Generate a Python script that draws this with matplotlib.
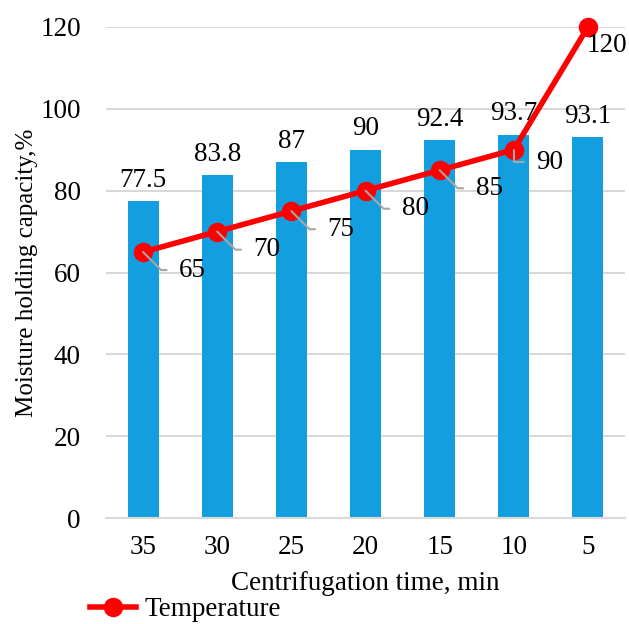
import numpy as np
import matplotlib.pyplot as plt

times = ['35', '30', '25', '20', '15', '10', '5']
capacity = [77.5, 83.8, 87, 90, 92.4, 93.7, 93.1]
temperature = [65, 70, 75, 80, 85, 90, 120]

plt.rcParams['font.family'] = ['Liberation Serif', 'DejaVu Serif']
FS = 19.5

fig = plt.figure(figsize=(6.29, 6.24), dpi=100)
ax = fig.add_axes([106 / 629, 1 - 518 / 624, 519 / 629, 491 / 624])

x = np.arange(len(times))
ax.bar(x, capacity, width=0.42, color='#139fdf', zorder=2)
ax.plot(x, temperature, color='#ff0000', lw=4, marker='o', ms=13,
        zorder=3, clip_on=False, label='Temperature')

for xi, v in zip(x, capacity):
    ax.annotate(f'{v:g}', (xi, v), xytext=(0, 6), textcoords='offset points',
                ha='center', va='bottom', fontsize=FS)

# data labels on the line, with leader lines
lead = dict(arrowstyle='-', color='#a6a6a6', lw=1.5, shrinkA=7, shrinkB=0)
for xi, t in zip(x[:5], temperature[:5]):
    ax.annotate(str(t), (xi, t), xytext=(26, -13), textcoords='offset points',
                ha='left', va='center', fontsize=FS,
                arrowprops=dict(lead, connectionstyle='angle,angleA=0,angleB=-45,rad=0'))
ax.annotate(str(temperature[5]), (x[5], temperature[5]), xytext=(16, -9),
            textcoords='offset points', ha='left', va='center', fontsize=FS,
            arrowprops=dict(lead, connectionstyle='angle,angleA=0,angleB=90,rad=0'))
ax.annotate(str(temperature[6]), (x[6], temperature[6]), xytext=(-1, -13),
            textcoords='offset points', ha='left', va='center', fontsize=FS)

ax.set_xlim(-0.5, 6.5)
ax.set_ylim(0, 120)
ax.set_yticks(range(0, 121, 20))
ax.set_xticks(x)
ax.set_xticklabels(times)
ax.tick_params(labelsize=FS, length=0, pad=12)
ax.tick_params(axis='y', pad=18)
ax.grid(axis='y', color='#d9d9d9', lw=1.5, zorder=0)
ax.set_axisbelow(True)
for s in ['top', 'right', 'left']:
    ax.spines[s].set_visible(False)
ax.spines['bottom'].set_color('#d9d9d9')
ax.spines['bottom'].set_linewidth(1.5)

ax.set_xlabel('Centrifugation time, min', fontsize=FS, labelpad=8)
ax.set_ylabel('Moisture holding capacity,%', fontsize=18, labelpad=2)

ax.legend(loc='center left', bbox_to_anchor=(90 / 629, 1 - 610 / 624),
          bbox_transform=fig.transFigure, frameon=False,
          fontsize=FS, handlelength=1.7, handletextpad=0.3, borderpad=0,
          borderaxespad=0)

fig.savefig('out.png', dpi=100)
